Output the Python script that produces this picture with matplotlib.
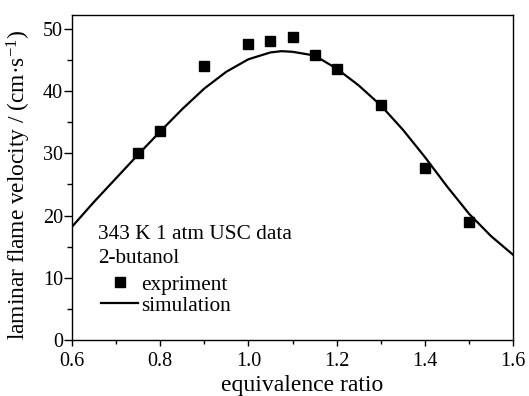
import matplotlib
matplotlib.use('Agg')
import matplotlib.pyplot as plt
from matplotlib.ticker import MultipleLocator

# experiment, USC data
phi_exp = [0.75, 0.80, 0.90, 1.00, 1.05, 1.10, 1.15, 1.20, 1.30, 1.40, 1.50]
su_exp = [30.1, 33.6, 44.0, 47.5, 48.0, 48.6, 45.8, 43.6, 37.7, 27.7, 19.0]

# simulation curve
phi_sim = [0.60, 0.65, 0.70, 0.75, 0.80, 0.85, 0.90, 0.95, 1.00, 1.05, 1.075,
           1.10, 1.15, 1.20, 1.25, 1.30, 1.35, 1.40, 1.45, 1.50, 1.55, 1.60]
su_sim = [18.2, 22.2, 26.0, 29.8, 33.5, 37.1, 40.4, 43.1, 45.1, 46.2, 46.4,
          46.3, 45.7, 43.6, 40.9, 37.7, 33.8, 29.4, 24.7, 20.3, 16.7, 13.7]

plt.rcParams['font.family'] = 'Liberation Serif'
plt.rcParams['mathtext.fontset'] = 'custom'
plt.rcParams['mathtext.rm'] = 'Liberation Serif'
plt.rcParams['mathtext.it'] = 'Liberation Serif:italic'

fig = plt.figure(figsize=(5.29, 3.96), dpi=100)
ax = fig.add_axes([0.136, 0.141, 0.834, 0.821])

ax.plot(phi_sim, su_sim, color='black', lw=1.6, label='simulation')
ax.plot(phi_exp, su_exp, ls='none', marker='s', ms=7.2, color='black', label='expriment')

ax.set_xlim(0.6, 1.6)
ax.set_ylim(0, 52.2)
ax.xaxis.set_major_locator(MultipleLocator(0.2))
ax.xaxis.set_minor_locator(MultipleLocator(0.1))
ax.yaxis.set_major_locator(MultipleLocator(10))
ax.yaxis.set_minor_locator(MultipleLocator(5))
ax.set_xticks([0.6, 0.8, 1.0, 1.2, 1.4, 1.6])
ax.set_xticklabels(['0.6', '0.8', '1.0', '1.2', '1.4', '1.6'])
ax.tick_params(axis='x', which='major', direction='out', length=4.5, width=1, labelsize=14.5, pad=4)
ax.tick_params(axis='x', which='minor', direction='out', length=3, width=1)
ax.tick_params(axis='y', which='major', direction='out', length=6, width=1, labelsize=14.5, pad=0.5)
ax.tick_params(axis='y', which='minor', direction='out', length=3.5, width=1)
for s in ax.spines.values():
    s.set_linewidth(1.0)

ax.set_xlabel('equivalence ratio', fontsize=17)
ax.xaxis.set_label_coords(0.522, -0.108)
ax.set_ylabel('laminar flame velocity / (cm·s$^{-1}$)', fontsize=16.8)
ax.yaxis.set_label_coords(-0.088, 0.478)

ax.text(0.059, 0.311, '343 K 1 atm USC data', transform=ax.transAxes,
        fontsize=15.3, va='baseline', ha='left')
ax.text(0.059, 0.236, '2-butanol', transform=ax.transAxes,
        fontsize=15.3, va='baseline', ha='left')

h, l = ax.get_legend_handles_labels()
leg = ax.legend([h[1], h[0]], [l[1], l[0]], loc='lower left', bbox_to_anchor=(0.066, 0.075),
                frameon=False, fontsize=15.3, handlelength=1.74, handletextpad=0.15,
                labelspacing=0.05, borderpad=0, borderaxespad=0, markerscale=1)

fig.savefig('out.png', dpi=100)
